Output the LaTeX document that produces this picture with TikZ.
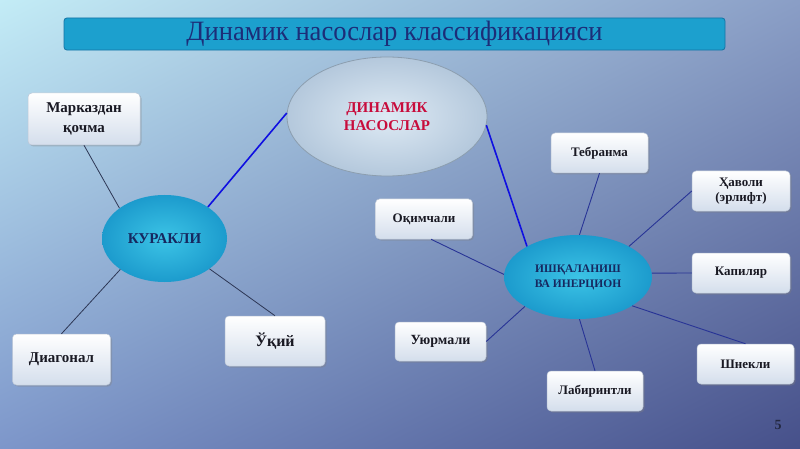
\documentclass[tikz,border=0pt]{standalone}
\usepackage{fontspec}
\setmainfont{Liberation Serif}
\newfontfamily\titlefont[FakeStretch=0.95]{Liberation Serif}
\usetikzlibrary{shapes.geometric,shadows,shadings}
\definecolor{bgUL}{RGB}{195,236,246}
\definecolor{bgUR}{RGB}{138,158,198}
\definecolor{bgLL}{RGB}{125,150,202}
\definecolor{bgLR}{RGB}{70,80,138}
\definecolor{barfill}{RGB}{28,160,206}
\definecolor{barline}{RGB}{20,115,165}
\definecolor{titletext}{RGB}{28,45,120}
\definecolor{boxbot}{RGB}{212,222,236}
\definecolor{boxline}{RGB}{190,200,215}
\definecolor{boxtext}{RGB}{25,25,35}
\definecolor{cyanin}{RGB}{60,196,230}
\definecolor{cyanout}{RGB}{28,155,205}
\definecolor{bigin}{RGB}{222,234,244}
\definecolor{bigout}{RGB}{180,200,220}
\definecolor{bigline}{RGB}{140,158,175}
\definecolor{redtext}{RGB}{200,12,60}
\definecolor{ellText}{RGB}{22,40,95}
\definecolor{mainblue}{RGB}{15,15,225}
\definecolor{subblue}{RGB}{40,52,150}
\definecolor{subgrey}{RGB}{45,55,85}
\definecolor{pagenum}{RGB}{35,40,65}
\begin{document}
\begin{tikzpicture}[x=1pt,y=-1pt,
  box/.style={rectangle, rounded corners=4pt, draw=boxline, line width=0.5pt,
    top color=white, bottom color=boxbot,
    drop shadow={shadow xshift=1.5pt, shadow yshift=-1.5pt, opacity=0.35},
    align=center, inner sep=0pt, text=boxtext, font=\bfseries},
  cyanell/.style={ellipse, inner sep=0pt, shading=radial, inner color=cyanin, outer color=cyanout,
    align=center, text=ellText},
  bigell/.style={ellipse, inner sep=0pt, draw=bigline, line width=0.8pt, shading=radial,
    inner color=bigin, outer color=bigout, align=center, text=redtext},
  mainline/.style={draw=mainblue, line width=1.6pt},
  subline/.style={draw=subblue, line width=0.9pt},
  greyline/.style={draw=subgrey, line width=0.8pt}]
\useasboundingbox (0,0) rectangle (800,449);
\begin{scope}[y=1pt]
  \shade[upper left=bgUL, upper right=bgUR, lower left=bgLL, lower right=bgLR] (0,-449) rectangle (800,0);
\end{scope}
% title
\node[rectangle, rounded corners=3pt, fill=barfill, draw=barline, line width=0.8pt,
  minimum width=661pt, minimum height=32pt, text=titletext,
  font=\titlefont\fontsize{28}{30}\selectfont] (title) at (394.5,34)
  {Динамик насослар классификацияси};
% ellipses
\node[bigell, minimum width=200pt, minimum height=119pt,
  font=\bfseries\fontsize{15}{18}\selectfont] (big) at (387,116.5) {ДИНАМИК\\НАСОСЛАР};
\node[cyanell, minimum width=125pt, minimum height=87pt,
  font=\bfseries\fontsize{15}{17}\selectfont] (kur) at (164.5,238.5) {КУРАКЛИ};
\node[cyanell, minimum width=148pt, minimum height=84pt,
  font=\bfseries\fontsize{11.5}{15}\selectfont] (ish) at (578,277) {ИШҚАЛАНИШ\\ВА ИНЕРЦИОН};
% boxes
\node[box, minimum width=112pt, minimum height=52pt, font=\bfseries\fontsize{15}{20}\selectfont] (mq) at (84,119) {Марказдан\\қочма};
\node[box, minimum width=98pt, minimum height=51pt, font=\bfseries\fontsize{15}{18}\selectfont] (diag) at (61.5,359.5) {Диагонал};
\node[box, minimum width=100pt, minimum height=50pt, font=\bfseries\fontsize{16}{18}\selectfont] (uq) at (275,341) {Ўқий};
\node[box, minimum width=97pt, minimum height=40pt, font=\bfseries\fontsize{13}{15}\selectfont] (oq) at (424,219) {Оқимчали};
\node[box, minimum width=97pt, minimum height=40pt, font=\bfseries\fontsize{13}{15}\selectfont] (teb) at (599.5,153) {Тебранма};
\node[box, minimum width=98pt, minimum height=40pt, font=\bfseries\fontsize{13}{15}\selectfont] (hav) at (741,191) {Ҳаволи\\(эрлифт)};
\node[box, minimum width=98pt, minimum height=40pt, font=\bfseries\fontsize{13}{15}\selectfont] (kap) at (741,273) {Капиляр};
\node[box, minimum width=91pt, minimum height=39pt, font=\bfseries\fontsize{14}{16}\selectfont] (uyu) at (440.5,341.5) {Уюрмали};
\node[box, minimum width=96pt, minimum height=40pt, font=\bfseries\fontsize{13}{15}\selectfont] (lab) at (595,391) {Лабиринтли};
\node[box, minimum width=97pt, minimum height=40pt, font=\bfseries\fontsize{13}{15}\selectfont] (shn) at (745.5,364) {Шнекли};
% page number
\node[text=pagenum, font=\bfseries\fontsize{14}{16}\selectfont] (pg) at (778,425) {5};
% connectors
\draw[mainline] (big.178) -- (kur.36);
\draw[mainline] (big.-5) -- (ish.149);
\draw[greyline] (mq.south) -- (kur.146);
\draw[greyline] (diag.north) -- (kur.215);
\draw[greyline] (uq.north) -- (kur.-34);
\draw[subline] ([xshift=7pt]oq.south) -- (ish.178);
\draw[subline] (teb.south) -- (ish.88);
\draw[subline] (hav.west) -- (ish.31);
\draw[subline] (kap.west) -- (ish.3);
\draw[subline] (shn.north) -- (ish.-28);
\draw[subline] (lab.north) -- (ish.-88);
\draw[subline] (uyu.east) -- (ish.209);
\end{tikzpicture}
\end{document}
